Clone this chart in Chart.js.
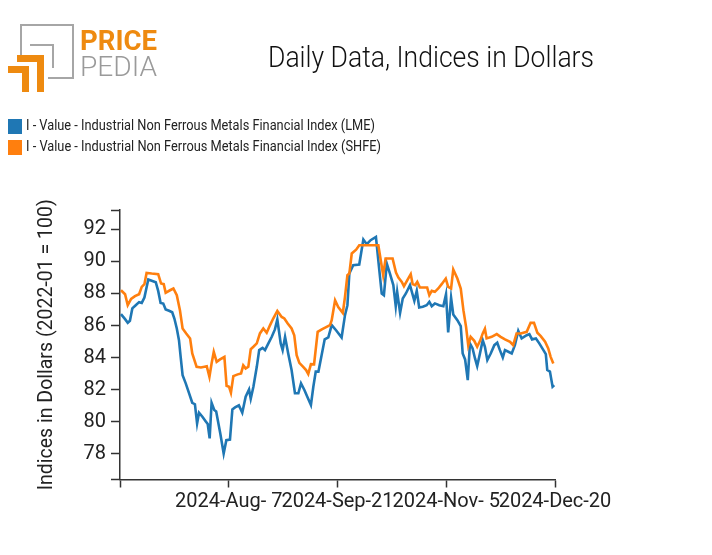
<!DOCTYPE html>
<html>
<head>
<meta charset="utf-8">
<script src="https://cdn.jsdelivr.net/npm/chart.js@4.4.1/dist/chart.umd.min.js"></script>
<style>
  html, body { margin: 0; padding: 0; background: #fff; }
  #wrap { position: relative; width: 712px; height: 555px; overflow: hidden; font-family: Roboto, sans-serif; }
  #chart { position: absolute; left: 0; top: 0; }
  .title { position: absolute; top: 39px; left: 0; white-space: nowrap; font-family: Roboto; font-weight: 300; font-size: 30px; color: #111; transform-origin: 0 0; }
  .leg { position: absolute; left: 8px; height: 15px; white-space: nowrap; }
  .leg .sw { position: absolute; left: 0; top: 0; width: 14px; height: 15px; }
  .leg .tx { position: absolute; left: 18px; top: -3px; font-family: Roboto; font-size: 15px; color: #222; transform-origin: 0 0; }
  .logo div { position: absolute; }
  .g { background: #a6a6a6; }
  .o { background: #ee8a10; }
  .lt { position: absolute; font-family: Roboto; white-space: nowrap; transform-origin: 0 0; line-height: 1; }
</style>
</head>
<body>
<div id="wrap">
  <canvas id="chart" width="712" height="555"></canvas>
  <div class="logo">
    <div class="g" style="left:20px;top:24px;width:54px;height:2px"></div>
    <div class="g" style="left:20px;top:24px;width:2px;height:34px"></div>
    <div class="g" style="left:72px;top:24px;width:2px;height:55px"></div>
    <div class="g" style="left:48px;top:77px;width:26px;height:2px"></div>
    <div class="g" style="left:30px;top:44px;width:24px;height:2px"></div>
    <div class="g" style="left:52px;top:44px;width:2px;height:24px"></div>
    <div class="o" style="left:17px;top:55px;width:27px;height:7px"></div>
    <div class="o" style="left:37px;top:55px;width:7px;height:37px"></div>
    <div class="o" style="left:8px;top:66px;width:21px;height:7px"></div>
    <div class="o" style="left:22px;top:66px;width:7px;height:26px"></div>
    <span class="lt" id="lp" style="left:80px;top:27px;font-size:28px;font-weight:700;color:#ee8a10">PRICE</span>
    <span class="lt" id="lpe" style="left:80px;top:53px;font-size:28px;font-weight:300;color:#9a9a9a">PEDIA</span>
  </div>
  <div class="title" id="title">Daily Data, Indices in Dollars</div>
  <div class="leg" style="top:119px"><div class="sw" style="background:#1f77b4"></div><span class="tx" id="l1"></span></div>
  <div class="leg" style="top:140px"><div class="sw" style="background:#ff7f0e"></div><span class="tx" id="l2"></span></div>
</div>
<script>
// ---- data (x = days since 2024-06-23) ----
const seriesNames = [
  "I - Value - Industrial Non Ferrous Metals Financial Index (LME)",
  "I - Value - Industrial Non Ferrous Metals Financial Index (SHFE)"
];
const lmeDays = [0.4,2.1,3.2,4.1,5.1,6.5,7.9,9.0,10.1,11.7,13.4,14.8,15.8,16.8,17.9,18.9,20.3,21.6,22.5,23.5,24.4,25.1,25.9,27.2,28.6,29.9,31.0,31.9,32.7,34.1,35.5,36.3,37.1,37.9,39.0,39.8,41.5,42.9,44.0,45.5,46.5,47.6,49.2,50.6,52.0,53.4,54.1,55.2,56.6,57.6,59.0,60.0,61.4,62.8,64.1,65.1,66.5,67.3,68.3,69.6,71.0,72.4,73.8,74.9,76.3,77.5,79.0,80.0,81.0,82.1,83.3,84.7,86.2,87.6,89.4,91.7,93.1,94.1,94.9,96.5,99.0,100.7,102.1,103.7,105.9,107.3,108.3,109.2,110.4,111.7,113.1,114.1,114.7,115.9,117.0,118.3,120.0,121.8,122.8,123.8,125.3,126.9,128.0,129.0,130.3,132.1,133.8,134.9,135.8,137.0,137.9,139.6,141.0,141.8,142.8,143.9,144.8,145.9,146.9,147.8,149.0,150.1,151.0,152.0,153.4,154.9,156.1,157.2,158.4,159.3,160.7,162.1,163.4,164.8,166.2,168.3,169.4,170.5,172.1,173.5,175.2,176.2,176.8,177.9,179.0,179.7];
const lmeValues = [86.71,86.40,86.17,86.30,87.07,87.27,87.46,87.41,87.75,88.87,88.78,88.70,88.16,87.41,87.37,87.00,86.92,86.83,86.44,85.82,85.09,84.05,82.91,82.40,81.78,81.19,81.10,79.90,80.57,80.32,80.03,79.87,78.97,81.19,80.74,80.65,79.28,78.03,78.86,78.90,80.78,80.90,81.03,80.57,81.57,82.02,81.44,82.19,83.43,84.47,84.61,84.47,84.89,85.30,85.76,86.38,84.89,84.47,85.30,84.26,83.23,81.78,81.78,82.40,81.99,81.57,81.05,82.19,83.13,83.13,84.05,85.14,85.26,86.03,85.71,85.26,86.65,87.27,89.24,89.76,89.80,91.36,91.07,91.32,91.52,89.45,87.99,87.89,89.86,89.24,88.52,87.21,88.10,86.79,87.69,88.00,88.52,87.54,88.16,87.13,87.17,87.27,87.48,87.21,87.38,87.27,87.21,87.95,85.57,87.73,86.69,86.34,85.96,84.26,83.89,82.60,84.89,84.58,83.95,83.47,84.30,85.09,84.68,83.85,84.26,84.78,84.93,84.47,84.01,84.47,84.37,84.26,84.78,85.67,85.20,85.40,85.47,85.14,85.20,84.89,84.47,84.22,83.23,83.13,82.19,82.29];
const shfeDays = [0.4,2.1,3.2,4.6,6.2,7.9,9.0,10.1,11.0,13.1,15.8,17.0,18.1,18.9,20.7,22.1,23.5,24.8,25.9,27.4,29.0,29.9,31.7,33.5,35.9,37.0,37.9,38.8,40.0,41.4,43.2,44.1,45.1,45.9,46.9,48.7,50.1,51.0,52.0,53.1,54.1,55.2,56.6,57.9,59.3,60.7,62.1,63.4,65.1,66.9,68.0,69.4,71.0,72.1,73.1,74.2,75.8,77.0,77.9,79.0,80.3,81.8,83.5,85.5,86.9,87.6,89.0,90.3,92.2,93.1,94.1,94.9,95.9,97.7,99.0,101.4,104.2,106.9,107.9,108.9,109.9,112.8,114.2,115.2,116.6,117.5,118.9,120.3,121.1,122.1,123.0,124.1,127.1,128.0,129.0,130.3,131.7,133.1,134.8,135.8,137.0,137.9,139.6,141.0,142.1,143.2,144.1,145.1,146.6,147.8,149.0,150.1,151.0,151.7,153.8,155.9,157.5,159.3,161.4,162.7,164.1,165.8,168.3,169.9,171.3,172.7,174.1,175.9,177.2,178.2,179.3];
const shfeValues = [88.20,87.95,87.27,87.66,87.83,87.95,88.41,88.58,89.28,89.24,89.20,88.62,88.58,88.04,88.20,88.31,87.89,86.96,85.82,85.51,85.20,84.26,83.43,83.39,83.47,82.81,83.64,84.36,83.74,83.89,84.05,82.25,82.19,81.81,82.85,82.96,83.02,83.52,83.33,83.43,84.53,84.68,84.89,85.51,85.82,85.55,86.03,86.44,86.91,86.54,86.44,86.13,85.82,85.40,84.16,83.68,83.43,83.23,82.98,83.60,83.58,85.61,85.76,85.92,86.03,86.34,87.58,87.16,86.79,87.79,89.14,89.24,90.49,90.73,91.00,91.00,91.00,91.00,90.07,89.14,90.18,90.18,89.30,88.99,88.72,88.45,88.83,89.20,88.58,88.52,88.72,88.37,88.37,87.89,88.16,88.10,88.31,88.58,88.93,88.41,88.31,89.49,88.93,88.31,86.96,85.92,84.78,85.30,85.05,84.68,85.05,85.51,85.80,85.20,85.30,85.47,85.30,85.14,84.99,84.78,85.51,85.51,85.61,86.17,86.17,85.55,85.34,84.99,84.58,84.05,83.64];
const xTickDays = [0, 45, 90, 135, 180];
const xTickLabels = ["", "2024-Aug- 7", "2024-Sep-21", "2024-Nov- 5", "2024-Dec-20"];
const yTicks = [78, 80, 82, 84, 86, 88, 90, 92];
const yMin = 76.41, yMax = 93.2;

document.getElementById('l1').textContent = seriesNames[0];
document.getElementById('l2').textContent = seriesNames[1];

function fitWidth(el, w) {
  const nat = el.getBoundingClientRect().width;
  el.style.transform = 'scaleX(' + (w / nat) + ')';
}
const t = document.getElementById('title');
t.style.left = '268px';
fitWidth(t, 326);
fitWidth(document.getElementById('l1'), 349);
fitWidth(document.getElementById('l2'), 355);
fitWidth(document.getElementById('lp'), 77);
fitWidth(document.getElementById('lpe'), 77);

const axisColor = '#333';
new Chart(document.getElementById('chart'), {
  type: 'line',
  data: {
    datasets: [
      { label: seriesNames[0], data: lmeDays.map((d, i) => ({ x: d, y: lmeValues[i] })),
        borderColor: '#1f77b4', backgroundColor: '#1f77b4', borderWidth: 2.6, pointRadius: 0, tension: 0, order: 1 },
      { label: seriesNames[1], data: shfeDays.map((d, i) => ({ x: d, y: shfeValues[i] })),
        borderColor: '#ff7f0e', backgroundColor: '#ff7f0e', borderWidth: 2.6, pointRadius: 0, tension: 0, order: 0 }
    ]
  },
  options: {
    responsive: false,
    animation: false,
    devicePixelRatio: 1,
    layout: { padding: { left: 0, top: 210, right: 157, bottom: 0 } },
    plugins: { legend: { display: false }, title: { display: false }, tooltip: { enabled: false } },
    scales: {
      x: {
        type: 'linear', min: 0, max: 180,
        afterFit: s => { s.height = 75.5; },
        afterBuildTicks: s => { s.ticks = xTickDays.map(v => ({ value: v })); },
        ticks: { autoSkip: false, maxRotation: 0, color: '#222', padding: 2,
          font: { family: 'Roboto', size: 20 },
          callback: (v) => { const i = xTickDays.indexOf(v); return i >= 0 ? xTickLabels[i] : ''; } },
        grid: { drawOnChartArea: false, drawTicks: true, tickLength: 8, color: axisColor, tickWidth: 1.5 },
        border: { display: true, color: axisColor, width: 1.5 }
      },
      y: {
        type: 'linear', min: yMin, max: yMax,
        afterFit: s => { s.width = 120; },
        afterBuildTicks: s => { s.ticks = [yMin].concat(yTicks, [yMax]).map(v => ({ value: v })); },
        ticks: { autoSkip: false, color: '#222', padding: 5,
          font: { family: 'Roboto', size: 20 },
          callback: (v) => yTicks.indexOf(v) >= 0 ? String(v) : '' },
        grid: { drawOnChartArea: false, drawTicks: true, tickLength: 9, color: axisColor, tickWidth: 1.5 },
        border: { display: true, color: axisColor, width: 1.5 },
        title: { display: true, text: 'Indices in Dollars (2022-01 = 100)', color: '#222',
          font: { family: 'Roboto', size: 19.5 }, padding: { top: 35, bottom: 0 } }
      }
    }
  }
});
</script>
</body>
</html>
